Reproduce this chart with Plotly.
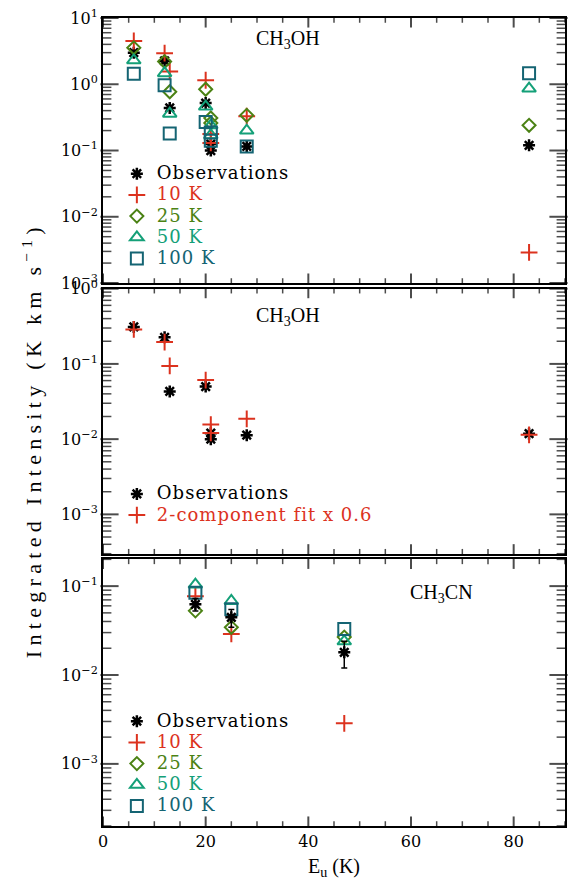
import math
import plotly.graph_objects as go

# ---- data -------------------------------------------------------------
# CH3OH lines: upper-level energies (K)
e_ch3oh = [6, 12, 13, 20, 21, 21, 28, 83]

# top panel: observed and model integrated intensities (K km/s)
obs_ch3oh = [3.0, 2.25, 0.44, 0.52, 0.125, 0.10, 0.115, 0.12]
m10_ch3oh = [4.5, 2.95, 1.56, 1.15, 0.177, 0.13, 0.33, 0.0029]
m25_ch3oh = [3.55, 2.2, 0.77, 0.84, 0.31, 0.26, 0.34, 0.24]
m50_ch3oh = [2.3, 1.47, 0.36, 0.46, 0.24, 0.17, 0.20, 0.86]
m100_ch3oh = [1.44, 0.97, 0.18, 0.27, 0.187, 0.14, 0.115, 1.47]

# middle panel: observations vs. scaled two-component fit
obs_ch3oh_b = [0.31, 0.226, 0.043, 0.05, 0.012, 0.010, 0.0113, 0.0118]
fit2_ch3oh = [0.287, 0.195, 0.094, 0.061, 0.0156, 0.0121, 0.0186, 0.0114]

# bottom panel: CH3CN
e_ch3cn = [18, 25, 47]
obs_ch3cn = [0.0625, 0.0445, 0.018]
err_ch3cn = [0.01, 0.01, 0.006]
m10_ch3cn = [0.077, 0.029, 0.00286]
m25_ch3cn = [0.0527, 0.0344, 0.0267]
m50_ch3cn = [0.104, 0.068, 0.0239]
m100_ch3cn = [0.084, 0.055, 0.033]

# axis extents: x range and log10 y ranges per panel
X_RANGE = [0, 90]
Y_RANGES = {
    "": (-3.0, 1.0),
    "2": (math.log10(3e-4), 0.0),
    "3": (math.log10(2e-4), math.log10(0.2)),
}
Y_DECADES = {"": [1, 0, -1, -2, -3], "2": [0, -1, -2, -3], "3": [-1, -2, -3]}

# ---- styles -----------------------------------------------------------
BLACK = "#000000"
RED = "#dc321e"
OLIVE = "#4b8214"
TEAL = "#14a078"
DTEAL = "#146473"
TICKFONT = dict(family="DejaVu Serif", size=16)
LEGFONT = dict(family="DejaVu Serif", size=14)

W, H = 574, 886
MARGIN = dict(l=103, r=8, t=7, b=60)
PLOT_W = W - MARGIN["l"] - MARGIN["r"]
PLOT_H = H - MARGIN["t"] - MARGIN["b"]
DOMAINS = {"": [0.672, 1.0], "2": [0.337, 0.665], "3": [0.0, 0.330]}


def mk(symbol, color, size, width):
    return dict(symbol=symbol, color=color, size=size,
                line=dict(width=width, color=color))


STY = {
    "obs": mk("asterisk-open", BLACK, 10, 2.5),
    "10": mk("cross-thin-open", RED, 12, 2),
    "25": mk("diamond-open", OLIVE, 10, 2),
    "50": mk("triangle-up-open", TEAL, 12, 2),
    "100": mk("square-open", DTEAL, 12, 2),
}


def lab(text, color):
    return (f"<span style='color:{color};font-size:18px;"
            f"letter-spacing:1px'>{text}</span>")


fig = go.Figure()

# ---- inward tick marks on all four sides of each panel ------------------
# each tick is a short line-symbol marker whose inner half starts at the frame
for key in ["", "2", "3"]:
    lo, hi = Y_RANGES[key]
    ph = (DOMAINS[key][1] - DOMAINS[key][0]) * PLOT_H
    dy = (hi - lo) / ph                       # log10 units per pixel
    dx = (X_RANGE[1] - X_RANGE[0]) / PLOT_W   # x units per pixel

    vx, vy, vs, vw = [], [], [], []           # vertical ticks on x axes
    for xv in range(X_RANGE[0], X_RANGE[1] + 1, 5):
        major = xv % 20 == 0
        ln = 8 if major else 4
        for edge, sgn in ((lo, 1), (hi, -1)):
            vx.append(xv)
            vy.append(10 ** (edge + sgn * ln / 2 * dy))
            vs.append(ln)
            vw.append(2 if major else 1.5)

    hx, hy, hs, hw = [], [], [], []           # horizontal ticks on y axes
    for d in range(math.floor(lo), math.ceil(hi) + 1):
        for m in range(1, 10):
            v = m * 10.0 ** d
            if not (lo - 1e-9 <= math.log10(v) <= hi + 1e-9):
                continue
            major = m == 1
            ln = 13 if major else 7
            for edge, sgn in ((X_RANGE[0], 1), (X_RANGE[1], -1)):
                hx.append(edge + sgn * ln / 2 * dx)
                hy.append(v)
                hs.append(ln)
                hw.append(2 if major else 1.5)

    for xs, ys, ss, ws, sym in ((vx, vy, vs, vw, "line-ns-open"),
                                (hx, hy, hs, hw, "line-ew-open")):
        fig.add_trace(go.Scatter(
            x=xs, y=ys, mode="markers", xaxis="x" + key, yaxis="y" + key,
            marker=dict(symbol=sym, size=ss, color="black",
                        line=dict(color="black", width=ws)),
            showlegend=False, hoverinfo="skip", cliponaxis=False))


def add(x, y, key, name, xa, ya, legend, err=None, rank=None):
    tr = go.Scatter(x=x, y=y, mode="markers", marker=STY[key],
                    name=name, xaxis=xa, yaxis=ya, legend=legend)
    if err is not None:
        tr.error_y = dict(type="data", array=err, color="black",
                          thickness=1.5, width=3)
    if rank is not None:
        tr.legendrank = rank
    fig.add_trace(tr)


# top panel
add(e_ch3oh, obs_ch3oh, "obs", lab("Observations", BLACK), "x", "y", "legend")
add(e_ch3oh, m10_ch3oh, "10", lab("10 K", RED), "x", "y", "legend")
add(e_ch3oh, m25_ch3oh, "25", lab("25 K", OLIVE), "x", "y", "legend")
add(e_ch3oh, m50_ch3oh, "50", lab("50 K", TEAL), "x", "y", "legend")
add(e_ch3oh, m100_ch3oh, "100", lab("100 K", DTEAL), "x", "y", "legend")

# middle panel
add(e_ch3oh, obs_ch3oh_b, "obs", lab("Observations", BLACK), "x2", "y2", "legend2")
add(e_ch3oh, fit2_ch3oh, "10", lab("2-component fit x 0.6", RED), "x2", "y2", "legend2")

# bottom panel (observations drawn on top, listed first)
add(e_ch3cn, m10_ch3cn, "10", lab("10 K", RED), "x3", "y3", "legend3", rank=2)
add(e_ch3cn, m25_ch3cn, "25", lab("25 K", OLIVE), "x3", "y3", "legend3", rank=3)
add(e_ch3cn, m50_ch3cn, "50", lab("50 K", TEAL), "x3", "y3", "legend3", rank=4)
add(e_ch3cn, m100_ch3cn, "100", lab("100 K", DTEAL), "x3", "y3", "legend3", rank=5)
add(e_ch3cn, obs_ch3cn, "obs", lab("Observations", BLACK), "x3", "y3", "legend3",
    err=err_ch3cn, rank=1)


# ---- axes -------------------------------------------------------------
def xaxis(anchor, show_labels):
    return dict(anchor=anchor, range=X_RANGE, tick0=0, dtick=20, ticks="",
                showline=True, linewidth=2, linecolor="black", mirror=True,
                showgrid=False, zeroline=False, showticklabels=show_labels,
                tickfont=TICKFONT)


def yaxis(key):
    lo, hi = Y_RANGES[key]

    def tt(d):
        return "10<sup>" + (str(d) if d >= 0 else "\u2212" + str(-d)) + "</sup>"
    decades = Y_DECADES[key]
    return dict(anchor="x" + key, domain=DOMAINS[key], type="log",
                range=[lo, hi], tickmode="array",
                tickvals=[10.0 ** d for d in decades],
                ticktext=[tt(d) for d in decades], ticks="",
                showline=True, linewidth=2, linecolor="black", mirror=True,
                showgrid=False, zeroline=False, tickfont=TICKFONT)


fig.update_layout(
    width=W, height=H, margin=MARGIN,
    plot_bgcolor="white",
    font=dict(color="black"),
    xaxis=xaxis("y", False),
    xaxis2=xaxis("y2", False),
    xaxis3=xaxis("y3", True),
    yaxis=yaxis(""), yaxis2=yaxis("2"), yaxis3=yaxis("3"),
)


def legend_at(ytop):
    return dict(x=0.03, y=ytop, xanchor="left", yanchor="top",
                bgcolor="rgba(0,0,0,0)", borderwidth=0, font=LEGFONT,
                tracegroupgap=0, itemwidth=30, traceorder="normal")


fig.update_layout(legend=legend_at(0.8266),
                  legend2=legend_at(0.4303),
                  legend3=legend_at(0.149))

# ---- text -------------------------------------------------------------
TITLEFONT = dict(family="Liberation Serif", size=20, color="black")


def note(text, x, y, **kw):
    fig.add_annotation(text=text, x=x, y=y, xref="paper", yref="paper",
                       xanchor="center", yanchor="middle", showarrow=False,
                       font=kw.pop("font", TITLEFONT), **kw)


note("CH<sub>3</sub>OH", 0.40, 0.974)
note("CH<sub>3</sub>OH", 0.40, 0.631)
note("CH<sub>3</sub>CN", 0.732, 0.288)
note("E<sub>u</sub> (K)", 0.5, -0.051)
note("<span style='letter-spacing:5.3px'>Integrated Intensity "
     "(K km s<sup>\u22121</sup>)</span>", -0.155, 0.478, textangle=-90,
     font=dict(family="Liberation Serif", size=22, color="black"))

fig.write_html("out.html")
